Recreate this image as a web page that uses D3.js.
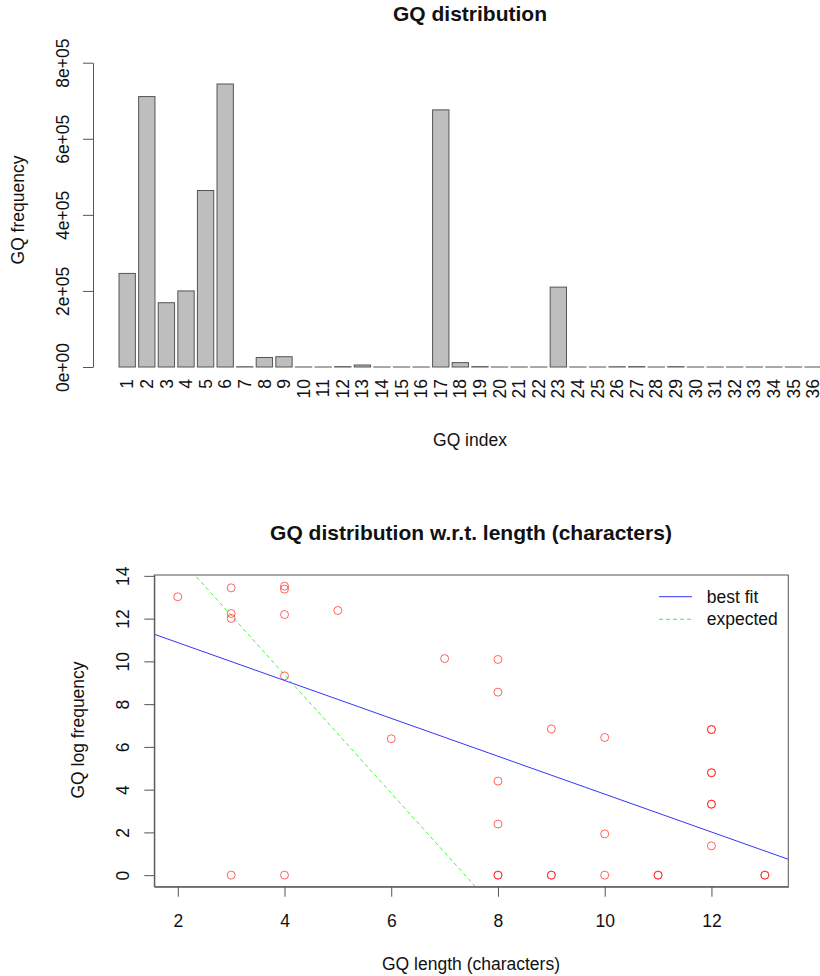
<!DOCTYPE html>
<html>
<head>
<meta charset="utf-8">
<script src="https://cdn.jsdelivr.net/npm/d3@7"></script>
<style>
  body { margin: 0; background: #fff; }
  text { font-family: "Liberation Sans", Arial, sans-serif; fill: #111; }
</style>
</head>
<body>
<div id="chart"></div>
<script>
// GQ index categories and their frequencies (top chart)
const gqIndex = ["1","2","3","4","5","6","7","8","9","10","11","12","13","14","15","16","17","18",
  "19","20","21","22","23","24","25","26","27","28","29","30","31","32","33","34","35","36"];
const gqFrequency = [246000, 711000, 169000, 200000, 464000, 744000, 600, 25000, 27000, 80, 1, 900,
  5200, 1, 1, 7, 676000, 11500, 950, 1, 1, 11, 210000, 1, 4, 630, 900, 1, 800, 1, 1, 1, 1, 1, 1, 1];
const freqTicks = [0, 200000, 400000, 600000, 800000];

// length (characters) vs log frequency (bottom chart)
const gqLength = [2, 3, 3, 3, 3, 4, 4, 4, 4, 4, 5, 6, 7, 8, 8, 8, 8, 8, 8, 9, 9, 9,
  10, 10, 10, 11, 11, 12, 12, 12, 12, 12, 12, 12, 13, 13];
const gqLogFreq = [13.02, 13.44, 12.24, 12.01, 0, 13.52, 13.38, 12.19, 9.32, 0, 12.38, 6.38, 10.13,
  10.09, 8.56, 4.40, 2.39, 0, 0, 6.84, 0, 0, 6.44, 1.93, 0, 0, 0, 6.81, 6.81, 4.79, 4.79, 3.32, 3.32,
  1.37, 0, 0];
const lengthTicks = [2, 4, 6, 8, 10, 12];
const logTicks = [0, 2, 4, 6, 8, 10, 12, 14];

// fitted lines: intercept, slope
const bestFit = [12.65, -0.886];
const expected = [20.47, -2.7726];
const legendLabels = ["best fit", "expected"];
const legendColors = ["#0000ff", "#00ff00"];
const legendDash = [null, "4,3"];

const width = 820;
const height = 976;
const fs = 17.5;

const svg = d3.select("#chart")
  .append("svg")
  .attr("width", width)
  .attr("height", height);

// ---------- top: bar chart ----------
const x1 = d3.scaleBand()
  .domain(gqIndex)
  .range([117.4, 822.9])
  .paddingInner(0.2 / 1.2)
  .paddingOuter(0.2 / 2.4);

const y1 = d3.scaleLinear()
  .domain([0, 800000])
  .range([367, 62.7]);

svg.append("g")
  .selectAll("rect")
  .data(gqFrequency)
  .join("rect")
    .attr("x", (d, i) => x1(gqIndex[i]))
    .attr("y", d => y1(d))
    .attr("width", x1.bandwidth())
    .attr("height", d => Math.max(y1(0) - y1(d), 0.01))
    .attr("fill", "#bebebe")
    .attr("stroke", "#555")
    .attr("stroke-width", 1);

const fmtSci = d => d === 0 ? "0e+00" : d3.format(".0e")(d).replace(/e\+(\d)$/, "e+0$1");

svg.append("g")
  .attr("transform", "translate(93,0)")
  .call(d3.axisLeft(y1).tickValues(freqTicks).tickSize(10).tickSizeOuter(0).tickFormat(fmtSci))
  .call(g => g.selectAll("path, line").attr("stroke", "#555"))
  .call(g => g.selectAll("text")
    .attr("transform", "rotate(-90)")
    .attr("x", 0).attr("y", -24.5).attr("dy", 0)
    .attr("text-anchor", "middle")
    .attr("font-size", fs).attr("fill", "#111"));

svg.append("g")
  .attr("transform", `translate(0,${y1(0)})`)
  .call(d3.axisBottom(x1).tickSize(0))
  .call(g => g.select(".domain").remove())
  .call(g => g.selectAll("text")
    .attr("transform", "rotate(-90)")
    .attr("x", -12).attr("y", 0).attr("dy", "0.35em")
    .attr("text-anchor", "end")
    .attr("font-size", fs).attr("fill", "#111"));

svg.append("text")
  .attr("x", 470).attr("y", 21)
  .attr("text-anchor", "middle")
  .attr("font-size", 21).attr("font-weight", "bold")
  .text("GQ distribution");

svg.append("text")
  .attr("x", 470).attr("y", 446)
  .attr("text-anchor", "middle")
  .attr("font-size", fs)
  .text("GQ index");

svg.append("text")
  .attr("transform", "translate(24.3,210) rotate(-90)")
  .attr("text-anchor", "middle")
  .attr("font-size", fs)
  .text("GQ frequency");

// ---------- bottom: scatter ----------
const x2 = d3.scaleLinear().domain([1.56, 13.44]).range([154.3, 788.3]);
const y2 = d3.scaleLinear().domain([-0.54, 14.04]).range([886.7, 575]);

svg.append("defs").append("clipPath").attr("id", "clip")
  .append("rect")
  .attr("x", x2.range()[0]).attr("y", y2.range()[1])
  .attr("width", x2.range()[1] - x2.range()[0])
  .attr("height", y2.range()[0] - y2.range()[1]);

const lines = svg.append("g").attr("clip-path", "url(#clip)");
[bestFit, expected].forEach((c, i) => {
  const xs = x2.domain();
  lines.append("line")
    .attr("x1", x2(xs[0])).attr("y1", y2(c[0] + c[1] * xs[0]))
    .attr("x2", x2(xs[1])).attr("y2", y2(c[0] + c[1] * xs[1]))
    .attr("stroke", legendColors[i])
    .attr("stroke-opacity", 0.8)
    .attr("stroke-dasharray", legendDash[i]);
});

svg.append("g")
  .selectAll("circle")
  .data(gqLength)
  .join("circle")
    .attr("cx", d => x2(d))
    .attr("cy", (d, i) => y2(gqLogFreq[i]))
    .attr("r", 4)
    .attr("fill", "none")
    .attr("stroke", "#ff0000")
    .attr("stroke-opacity", 0.6);

svg.append("rect")
  .attr("x", x2.range()[0]).attr("y", y2.range()[1])
  .attr("width", x2.range()[1] - x2.range()[0])
  .attr("height", y2.range()[0] - y2.range()[1])
  .attr("fill", "none")
  .attr("stroke", "#555");

svg.append("g")
  .attr("transform", `translate(0,${y2.range()[0]})`)
  .call(d3.axisBottom(x2).tickValues(lengthTicks).tickSize(10).tickSizeOuter(0))
  .call(g => g.selectAll("path, line").attr("stroke", "#555"))
  .call(g => g.selectAll("text")
    .attr("y", 40).attr("dy", 0)
    .attr("font-size", fs).attr("fill", "#111"));

svg.append("g")
  .attr("transform", `translate(${x2.range()[0]},0)`)
  .call(d3.axisLeft(y2).tickValues(logTicks).tickSize(10).tickSizeOuter(0))
  .call(g => g.selectAll("path, line").attr("stroke", "#555"))
  .call(g => g.selectAll("text")
    .attr("transform", "rotate(-90)")
    .attr("x", 0).attr("y", -25.3).attr("dy", 0)
    .attr("text-anchor", "middle")
    .attr("font-size", fs).attr("fill", "#111"));

svg.append("text")
  .attr("x", 471).attr("y", 540)
  .attr("text-anchor", "middle")
  .attr("font-size", 21).attr("font-weight", "bold")
  .text("GQ distribution w.r.t. length (characters)");

svg.append("text")
  .attr("x", 471).attr("y", 970)
  .attr("text-anchor", "middle")
  .attr("font-size", fs)
  .text("GQ length (characters)");

svg.append("text")
  .attr("transform", "translate(84.3,730) rotate(-90)")
  .attr("text-anchor", "middle")
  .attr("font-size", fs)
  .text("GQ log frequency");

// legend
const legend = svg.append("g")
  .selectAll("g")
  .data(legendLabels)
  .join("g")
    .attr("transform", (d, i) => `translate(659,${596.7 + i * 22.6})`);

legend.append("line")
  .attr("x1", 0).attr("x2", 33)
  .attr("stroke", (d, i) => legendColors[i])
  .attr("stroke-opacity", 0.8)
  .attr("stroke-dasharray", (d, i) => legendDash[i]);

legend.append("text")
  .attr("x", 47.7).attr("dy", "0.35em")
  .attr("font-size", fs)
  .text(d => d);
</script>
</body>
</html>
